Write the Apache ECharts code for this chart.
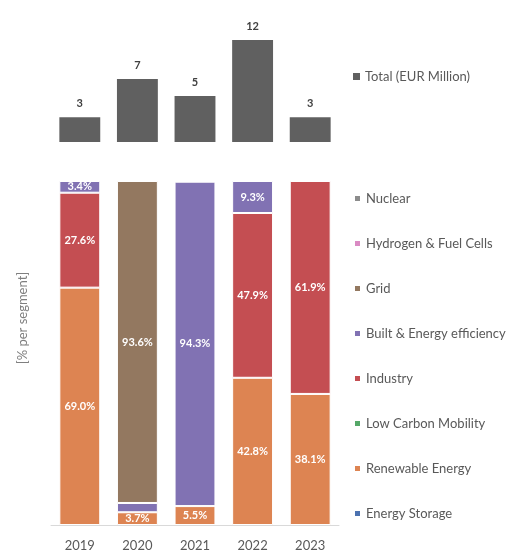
<!DOCTYPE html>
<html>
<head>
<meta charset="utf-8">
<script src="https://cdn.jsdelivr.net/npm/echarts@6/dist/echarts.min.js"></script>
<style>
  html, body { margin: 0; padding: 0; background: #fff; }
  #main { width: 508px; height: 552px; }
</style>
</head>
<body>
<div id="main"></div>
<script>
// data
var years = ['2019', '2020', '2021', '2022', '2023'];
var totals = [2.9, 7.4, 5.4, 12.0, 2.9];   // EUR Million

// share per segment [%], stacked bottom -> top
var energyStorage = [0, 0, 0, 0, 0];
var renewable     = [69.0, 3.7, 5.5, 42.8, 38.1];
var lowCarbon     = [0, 0, 0, 0, 0];
var industry      = [27.6, 0, 0, 47.9, 61.9];
var built         = [3.4, 2.7, 94.3, 9.3, 0];
var grid          = [0, 93.6, 0, 0, 0];
var hydrogen      = [0, 0, 0, 0, 0];
var nuclear       = [0, 0, 0, 0, 0];

var segNames = ['Energy Storage', 'Renewable Energy', 'Low Carbon Mobility', 'Industry',
                'Built & Energy efficiency', 'Grid', 'Hydrogen & Fuel Cells', 'Nuclear'];
var segData = [energyStorage, renewable, lowCarbon, industry, built, grid, hydrogen, nuclear];
var segColors = ['#4c72b0', '#dd8452', '#55a868', '#c44e52', '#8172b3', '#937860', '#da8bc3', '#8c8c8c'];

var font = 'Lato, "Open Sans", sans-serif';
var myChart = echarts.init(document.getElementById('main'));

var series = [{
    name: 'Total (EUR Million)',
    type: 'bar',
    xAxisIndex: 0,
    yAxisIndex: 0,
    barWidth: '71%',
    data: totals,
    itemStyle: { color: '#606060' },
    label: {
        show: true,
        position: 'top',
        distance: 8,
        color: '#404040',
        fontWeight: 'bold',
        fontSize: 11,
        fontFamily: font,
        formatter: function (p) { return Math.round(p.value); }
    }
}];

segNames.forEach(function (name, i) {
    series.push({
        name: name,
        type: 'bar',
        stack: 'share',
        xAxisIndex: 1,
        yAxisIndex: 1,
        barWidth: '71%',
        data: segData[i].map(function (v) { return v === 0 ? '-' : v; }),
        itemStyle: { color: segColors[i], borderColor: '#fff', borderWidth: 1 },
        label: {
            show: true,
            position: 'inside',
            color: '#fff',
            fontWeight: 'bold',
            fontSize: 11,
            fontFamily: font,
            formatter: function (p) { return p.value >= 3 ? p.value.toFixed(1) + '%' : ''; }
        }
    });
});

var option = {
    animation: false,
    backgroundColor: '#fff',
    textStyle: { fontFamily: font },
    grid: [
        { left: 51, width: 288, top: 23, height: 119 },
        { left: 51, width: 288, top: 181, height: 345 }
    ],
    xAxis: [{
        gridIndex: 0,
        type: 'category',
        data: years,
        show: false
    }, {
        gridIndex: 1,
        type: 'category',
        data: years,
        axisLine: { lineStyle: { color: '#d9d9d9', width: 1 } },
        axisTick: { show: false },
        axisLabel: { color: '#595959', fontSize: 13, margin: 14, fontFamily: font }
    }],
    yAxis: [{
        gridIndex: 0,
        type: 'value',
        min: 0,
        max: 14,
        show: false
    }, {
        gridIndex: 1,
        type: 'value',
        min: 0,
        max: 100,
        name: '[% per segment]',
        nameLocation: 'middle',
        nameRotate: 90,
        nameGap: 22,
        nameTextStyle: { color: '#7f7f7f', fontSize: 13, fontFamily: font, padding: [0, 0, 0, 70] },
        axisLine: { show: false },
        axisTick: { show: false },
        axisLabel: { show: false },
        splitLine: { show: false }
    }],
    legend: [{
        data: ['Total (EUR Million)'],
        left: 348,
        top: 65,
        icon: 'rect',
        itemWidth: 7,
        itemHeight: 7,
        itemGap: 5,
        textStyle: { color: '#595959', fontSize: 13, fontFamily: font }
    }, {
        data: segNames.slice().reverse(),
        orient: 'vertical',
        left: 348,
        top: 187,
        icon: 'rect',
        itemWidth: 7,
        itemHeight: 7,
        itemGap: 32,
        textStyle: { color: '#595959', fontSize: 13, fontFamily: font }
    }],
    series: series
};

myChart.setOption(option);
</script>
</body>
</html>
